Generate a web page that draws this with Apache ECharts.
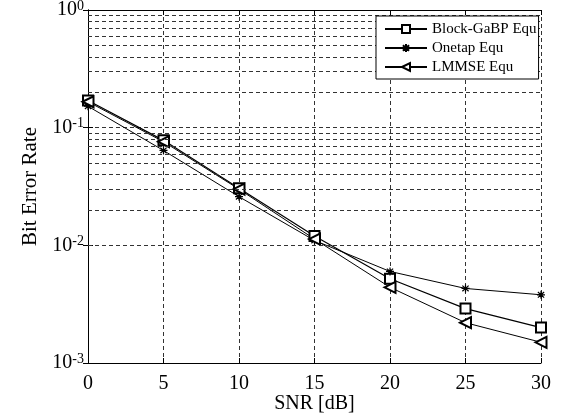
<!DOCTYPE html>
<html>
<head>
<meta charset="utf-8">
<script src="https://cdn.jsdelivr.net/npm/echarts@6/dist/echarts.min.js"></script>
<style>
html,body{margin:0;padding:0;background:#fff;}
#chart{width:569px;height:417px;}
</style>
</head>
<body>
<div id="chart"></div>
<script>
var snr = [0, 5, 10, 15, 20, 25, 30];
var blockGaBP = [0.170, 0.078, 0.0305, 0.0120, 0.0052, 0.0029, 0.0020];
var onetap = [0.152, 0.064, 0.0259, 0.0110, 0.0060, 0.0043, 0.0038];
var lmmse = [0.166, 0.076, 0.0300, 0.0113, 0.0044, 0.0022, 0.0015];
var seriesNames = ['Block-GaBP Equ', 'Onetap Equ', 'LMMSE Equ'];
var xTicks = [0, 5, 10, 15, 20, 25, 30];
var minorGridY = [];
[0.001, 0.01, 0.1].forEach(function (d) {
  for (var k = 2; k <= 9; k++) minorGridY.push(+(d * k).toPrecision(3));
});

var FONT = 'Liberation Serif';
var dash = [4, 3];
var gridColor = '#333';
var asterisk = 'path://M0,-5L0,5M-4.5,0L4.5,0M-3.5,-3.5L3.5,3.5M-3.5,3.5L3.5,-3.5';

function pairs(ys) { return snr.map(function (x, i) { return [x, ys[i]]; }); }

var chart = echarts.init(document.getElementById('chart'), null, {renderer: 'canvas'});
var option = {
  animation: false,
  backgroundColor: '#fff',
  grid: {left: 88, right: 28, top: 10, bottom: 54, containLabel: false, outerBoundsMode: 'none'},
  legend: {
    z: 50, zlevel: 1,
    orient: 'vertical',
    left: 376, top: 16,
    padding: [5, 2, 4, 8],
    borderColor: '#000', borderWidth: 1,
    backgroundColor: '#fff',
    itemWidth: 42, itemHeight: 10, itemGap: 3,
    textStyle: {fontFamily: FONT, fontSize: 15, color: '#000', lineHeight: 16},
    data: seriesNames
  },
  xAxis: [{
    type: 'value', min: 0, max: 30, interval: 5,
    name: 'SNR [dB]', nameLocation: 'middle', nameGap: 31, nameMoveOverlap: false,
    nameTextStyle: {fontFamily: FONT, fontSize: 20, color: '#000'},
    axisLine: {lineStyle: {color: '#000', width: 1}},
    axisTick: {inside: true, length: 5, lineStyle: {color: '#000'}},
    axisLabel: {fontFamily: FONT, fontSize: 20, color: '#000', margin: 11},
    splitLine: {show: true, lineStyle: {color: gridColor, type: dash, width: 1}}
  }, {
    type: 'value', min: 0, max: 30, interval: 5, position: 'top',
    axisLine: {show: true, lineStyle: {color: '#000'}},
    axisTick: {inside: true, length: 5, lineStyle: {color: '#000'}},
    axisLabel: {show: false}, splitLine: {show: false}
  }],
  yAxis: [{
    type: 'log', min: 0.001, max: 1, logBase: 10,
    name: 'Bit Error Rate', nameLocation: 'middle', nameGap: 47, nameMoveOverlap: false,
    nameTextStyle: {fontFamily: FONT, fontSize: 21, color: '#000'},
    axisLine: {show: true, lineStyle: {color: '#000', width: 1}},
    axisTick: {inside: true, length: 5, lineStyle: {color: '#000'}},
    axisLabel: {
      fontFamily: FONT, fontSize: 20, color: '#000', margin: 4,
      formatter: function (v) {
        var e = Math.round(Math.log10(v));
        return '10{sup|' + e + '}';
      },
      rich: {sup: {fontFamily: FONT, fontSize: 14, color: '#000', padding: [0, 0, 8, 0]}}
    },
    splitLine: {show: true, lineStyle: {color: gridColor, type: dash, width: 1}}
  }, {
    type: 'log', min: 0.001, max: 1, logBase: 10, position: 'right',
    axisLine: {show: true, lineStyle: {color: '#000'}},
    axisTick: {inside: true, length: 5, lineStyle: {color: '#000'}},
    axisLabel: {show: false}, splitLine: {show: false}
  }],
  series: [{
    name: seriesNames[0], type: 'line', data: pairs(blockGaBP),
    symbol: 'emptyRect', symbolSize: 10,
    lineStyle: {color: '#000', width: 1.2},
    itemStyle: {color: '#000', borderColor: '#000', borderWidth: 1},
    z: 3,
    markLine: {
      silent: true, symbol: 'none', label: {show: false},
      lineStyle: {color: gridColor, type: dash, width: 1},
      animation: false,
      data: minorGridY.map(function (v) { return {yAxis: v}; })
    }
  }, {
    name: seriesNames[1], type: 'line', data: pairs(onetap),
    symbol: asterisk, symbolSize: 8,
    lineStyle: {color: '#000', width: 1},
    itemStyle: {color: 'none', borderColor: '#000', borderWidth: 1.2},
    z: 3
  }, {
    name: seriesNames[2], type: 'line', data: pairs(lmmse),
    symbol: 'emptyTriangle', symbolSize: 11, symbolRotate: 90,
    lineStyle: {color: '#000', width: 1},
    itemStyle: {color: '#000', borderColor: '#000', borderWidth: 1},
    z: 3
  }]
};
chart.setOption(option);
</script>
</body>
</html>
